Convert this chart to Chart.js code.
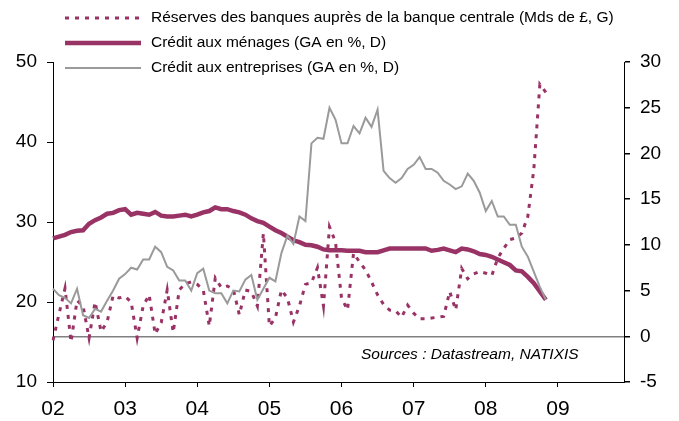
<!DOCTYPE html>
<html>
<head>
<meta charset="utf-8">
<script src="https://cdn.jsdelivr.net/npm/chart.js@4.4.1/dist/chart.umd.min.js"></script>
<style>
  body { margin: 0; background: #fff; }
  canvas { display: block; }
</style>
</head>
<body>
<canvas id="ukChart" width="679" height="421"></canvas>
<script>
// monthly categories, Jan 2002 .. Dec 2009
const years = ['02', '03', '04', '05', '06', '07', '08', '09'];
const months = [];
years.forEach(y => {
    for (let m = 1; m <= 12; m++) months.push(y + '-' + String(m).padStart(2, '0'));
});

// Réserves des banques auprès de la banque centrale (Mds de £, left axis)
const reserves = [
    15.2, 18.5, 21.7, 15.0, 20.2, 19.5, 15.5, 20.0, 16.3, 17.5, 20.8, 20.5,
    20.7, 20.0, 15.5, 19.5, 20.9, 16.0, 17.4, 21.5, 16.2, 21.5, 22.3, 22.5,
    22.2, 21.5, 17.0, 23.0, 21.8, 22.0, 21.6, 18.4, 21.5, 21.3, 19.5, 28.6,
    17.0, 18.0, 21.5, 20.5, 17.5, 19.5, 22.2, 22.4, 24.3, 19.5, 29.4, 27.5,
    20.5, 19.0, 26.1, 25.0, 24.0, 22.5, 20.9, 19.7, 19.0, 18.9, 18.1, 19.6,
    18.6, 17.9, 17.9, 18.0, 18.1, 18.2, 21.3, 19.0, 24.2, 22.9, 23.5, 23.8,
    23.6, 23.3, 25.5, 26.7, 27.8, 28.0, 28.6, 30.7, 36.6, 47.2, 46.2
];

// Crédit aux ménages (GA en %, right axis)
const menages = [
    10.7, 10.9, 11.1, 11.4, 11.55, 11.6, 12.3, 12.7, 13.0, 13.4, 13.5, 13.8,
    13.9, 13.3, 13.5, 13.4, 13.3, 13.6, 13.2, 13.1, 13.1, 13.2, 13.3, 13.1,
    13.3, 13.55, 13.7, 14.1, 13.9, 13.9, 13.7, 13.55, 13.3, 12.9, 12.6, 12.4,
    12.0, 11.6, 11.3, 10.9, 10.5, 10.3, 10.0, 9.95, 9.8, 9.5, 9.4, 9.4,
    9.4, 9.35, 9.35, 9.35, 9.2, 9.2, 9.2, 9.4, 9.6, 9.6, 9.6, 9.6,
    9.6, 9.6, 9.6, 9.35, 9.45, 9.6, 9.4, 9.2, 9.6, 9.5, 9.3, 9.0,
    8.9, 8.7, 8.4, 8.1, 7.8, 7.2, 7.1, 6.5, 5.8, 4.9, 4.0
];

// Crédit aux entreprises (GA en %, right axis)
const entreprises = [
    5.2, 4.5, 4.2, 3.6, 5.2, 2.3, 2.0, 3.0, 2.7, 3.9, 5.0, 6.3,
    6.8, 7.5, 7.3, 8.4, 8.4, 9.8, 9.2, 7.6, 7.2, 6.1, 6.1, 5.0,
    6.9, 7.4, 5.0, 4.7, 4.7, 3.6, 5.0, 4.9, 6.2, 6.7, 4.0, 5.2,
    6.4, 6.0, 9.1, 11.0, 10.1, 13.1, 12.6, 21.1, 21.7, 21.6, 25.0, 23.7,
    21.1, 21.1, 23.0, 22.2, 23.9, 22.9, 24.8, 18.1, 17.3, 16.8, 17.3, 18.3,
    18.75, 19.6, 18.3, 18.3, 17.9, 17.0, 16.6, 16.1, 16.4, 17.8, 17.0, 15.7,
    13.7, 14.8, 13.1, 13.1, 12.2, 12.2, 9.8, 8.7, 7.05, 5.4, 4.0
];

const leftTicks = [10, 20, 30, 40, 50];
const rightTicks = [-5, 0, 5, 10, 15, 20, 25, 30];

const plum = '#993366';
const grey = '#9a9a9a';
const font = '"Liberation Sans", Arial, sans-serif';

// legend + source note drawn on the canvas (legend sits over the plot top)
const overlay = {
    id: 'overlay',
    afterDraw(chart) {
        const ctx = chart.ctx;
        ctx.save();
        chart.data.datasets.forEach((ds, i) => {
            const y = 18 + i * 25;
            ctx.strokeStyle = ds.borderColor;
            ctx.lineWidth = ds.borderWidth;
            ctx.setLineDash(ds.borderDash || []);
            ctx.beginPath();
            ctx.moveTo(65, y);
            ctx.lineTo(141, y);
            ctx.stroke();
            ctx.setLineDash([]);
            ctx.fillStyle = '#000';
            ctx.font = '15.5px ' + font;
            ctx.textBaseline = 'middle';
            ctx.fillText(ds.label, 151, y);
        });
        ctx.font = 'italic 15.5px ' + font;
        ctx.textBaseline = 'middle';
        ctx.fillText('Sources : Datastream, NATIXIS', 361, 355);
        ctx.restore();
    }
};

new Chart(document.getElementById('ukChart'), {
    type: 'line',
    data: {
        labels: months,
        datasets: [{
                label: 'Réserves des banques auprès de la banque centrale (Mds de £, G)',
                data: reserves,
                yAxisID: 'y',
                borderColor: plum,
                borderWidth: 3,
                borderDash: [4, 6],
                order: 3
            },
            {
                label: 'Crédit aux ménages (GA en %, D)',
                data: menages,
                yAxisID: 'y1',
                borderColor: plum,
                borderWidth: 4.5,
                order: 2
            },
            {
                label: 'Crédit aux entreprises (GA en %, D)',
                data: entreprises,
                yAxisID: 'y1',
                borderColor: grey,
                borderWidth: 2,
                order: 1
            }
        ]
    },
    options: {
        responsive: false,
        animation: false,
        devicePixelRatio: 1,
        elements: {
            point: { radius: 0 },
            line: { tension: 0, borderCapStyle: 'butt' }
        },
        layout: { padding: { top: 62, left: 0, right: 0, bottom: 0 } },
        plugins: {
            legend: { display: false },
            tooltip: { enabled: false }
        },
        scales: {
            x: {
                type: 'category',
                grid: { drawOnChartArea: false, tickLength: 5, tickColor: '#000' },
                border: { color: '#000' },
                ticks: {
                    autoSkip: false,
                    maxRotation: 0,
                    padding: 10,
                    color: '#000',
                    font: { family: font, size: 21 },
                    callback(value, index) {
                        return index % 12 === 0 ? months[index].slice(0, 2) : null;
                    }
                },
                afterFit(scale) { scale.height = 39; }
            },
            y: {
                position: 'left',
                min: 10,
                max: 50,
                afterBuildTicks(scale) { scale.ticks = leftTicks.map(v => ({ value: v })); },
                grid: { drawOnChartArea: false, tickLength: 6, tickColor: '#000' },
                border: { color: '#000' },
                ticks: { padding: 10, color: '#000', font: { family: font, size: 19 } },
                afterFit(scale) { scale.width = 53; }
            },
            y1: {
                position: 'right',
                min: -5,
                max: 30,
                afterBuildTicks(scale) { scale.ticks = rightTicks.map(v => ({ value: v })); },
                grid: {
                    drawOnChartArea: true,
                    color: ctx => (ctx.tick && ctx.tick.value === 0) ? '#808080' : 'rgba(0,0,0,0)',
                    lineWidth: 1.5,
                    tickLength: 6,
                    tickColor: '#000'
                },
                border: { color: '#000' },
                ticks: { padding: 10, color: '#000', font: { family: font, size: 19 } },
                afterFit(scale) { scale.width = 55; }
            }
        }
    },
    plugins: [overlay]
});
</script>
</body>
</html>
